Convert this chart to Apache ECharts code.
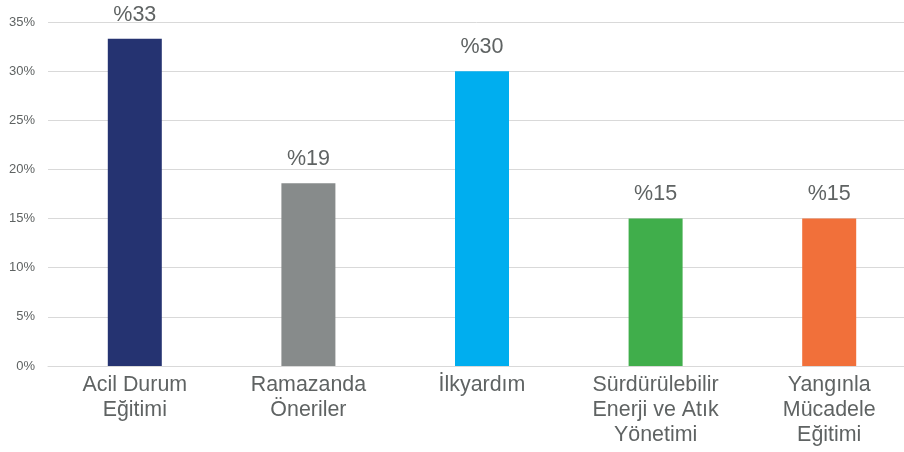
<!DOCTYPE html>
<html>
<head>
<meta charset="utf-8">
<script src="https://cdn.jsdelivr.net/npm/echarts@6/dist/echarts.min.js"></script>
<style>
    html, body { margin: 0; padding: 0; background: #fff; }
    #chart { width: 904px; height: 452px; }
</style>
</head>
<body>
<div id="chart"></div>
<script>
// MARK: - Data
const categories = ['Acil Durum\nEğitimi', 'Ramazanda\nÖneriler', 'İlkyardım', 'Sürdürülebilir\nEnerji ve Atık\nYönetimi', 'Yangınla\nMücadele\nEğitimi'];
const shares = [33.3, 18.6, 30, 15, 15];
const barColors = ['#253371', '#878b8b', '#00aeef', '#40ae4b', '#f1703a'];
const yTicks = [0, 5, 10, 15, 20, 25, 30, 35];

const textColor = '#5f6363';
const fontFamily = '"Liberation Sans", Arial, sans-serif';

let chart = echarts.init(document.getElementById('chart'));

let option = {
    backgroundColor: '#fff',
    animation: false,
    grid: {
        left: 48,
        right: -12,
        top: 22,
        bottom: 86,
        containLabel: false,
        outerBoundsMode: 'none'
    },
    xAxis: {
        type: 'category',
        data: categories,
        axisTick: { show: false },
        axisLine: { lineStyle: { color: '#d9d9d9' } },
        axisLabel: {
            color: textColor,
            fontSize: 21.4,
            fontFamily: fontFamily,
            lineHeight: 25,
            margin: 7,
            interval: 0
        }
    },
    yAxis: {
        type: 'value',
        min: yTicks[0],
        max: yTicks[yTicks.length - 1],
        interval: 5,
        axisLine: { show: false },
        axisTick: { show: false },
        splitLine: { lineStyle: { color: '#d9d9d9' } },
        axisLabel: {
            color: textColor,
            fontSize: 13,
            fontFamily: fontFamily,
            margin: 13,
            formatter: v => v + '%'
        }
    },
    series: [{
        type: 'bar',
        barWidth: 54,
        data: shares.map((v, i) => ({ value: v, itemStyle: { color: barColors[i] } })),
        label: {
            show: true,
            position: 'top',
            distance: 13,
            color: textColor,
            fontSize: 21.5,
            fontFamily: fontFamily,
            formatter: p => '%' + Math.round(p.value)
        }
    }]
};

option && chart.setOption(option);
</script>
</body>
</html>
